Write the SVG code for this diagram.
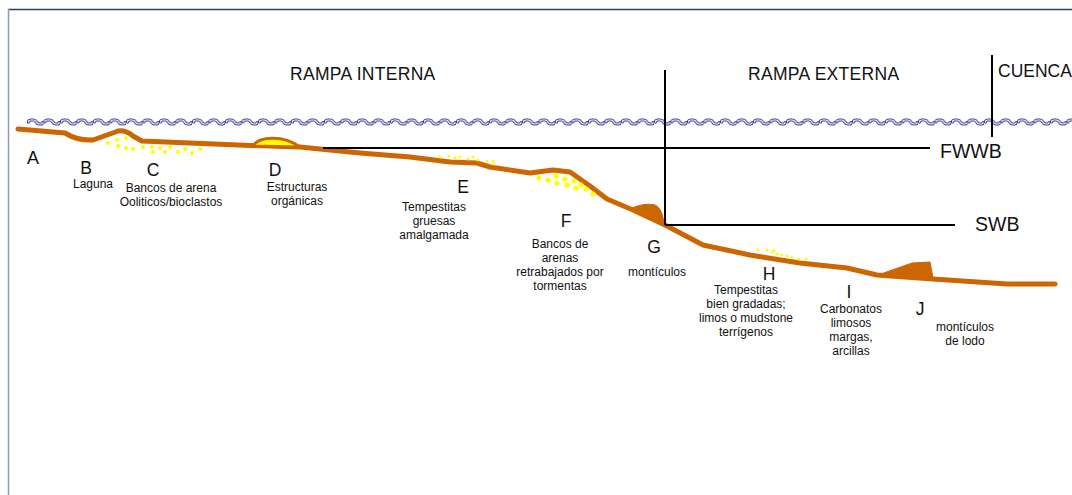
<svg xmlns="http://www.w3.org/2000/svg" width="1072" height="495" viewBox="0 0 1072 495">
  <style>
    .t { font-family: "Liberation Sans", Arial, sans-serif; fill: #111; text-anchor: middle; }
    .zone { font-size: 17.5px; text-anchor: start; }
    .lvl { font-size: 19.5px; text-anchor: start; }
    .let { font-size: 17.5px; }
    .sm { font-size: 12px; }
    .bed { fill: none; stroke: #CC6600; stroke-width: 5; stroke-linejoin: round; stroke-linecap: round; }
    .mound { fill: #CC6600; stroke: #CC6600; stroke-width: 1; stroke-linejoin: round; }
    .ln { stroke: #000; stroke-width: 2; fill: none; }
    .dot { fill: #FFFF00; }
  </style>
  <defs>
    <!-- wavy sea-surface ribbon -->
    <path id="wave-unit" d="M1.5,4 Q1.5,2 4,2 L6.5,2 Q8.3,2 9.3,4 Q10.3,6 12.2,6 L14.3,6 Q15.6,6 15.6,4.6"/>
    <pattern id="waves" patternUnits="userSpaceOnUse" x="27" y="118" width="16.5" height="11">
      <use href="#wave-unit" fill="none" stroke="#3a3aa0" stroke-width="3.2" stroke-linecap="round" stroke-linejoin="round"/>
      <use href="#wave-unit" fill="none" stroke="#fff" stroke-width="1.2" stroke-linecap="round" stroke-linejoin="round"/>
    </pattern>
  </defs>

  <rect width="1072" height="495" fill="#fff"/>
  <!-- frame -->
  <line x1="8" y1="9.5" x2="1072" y2="9.5" stroke="#2e3d6b" stroke-width="1.5"/>
  <line x1="8.5" y1="9" x2="8.5" y2="495" stroke="#8a9abb" stroke-width="1.5"/>

  <!-- sea surface -->
  <rect id="sea" x="27" y="118" width="1045" height="11" fill="url(#waves)"/>

  <!-- seabed profile -->
  <g id="seabed">
    <path class="bed" d="M18,129 L65,133 Q78,141 93,140 Q110,134 118,131 Q126,130 133,136 L142,141 L250,145.5 L300,147 L360,153 L410,157 L450,162 L477,163 L490,167 L530,173 L553,170 L570,172 L590,186 L607,199 L633,210 L665,225 L703,245 L750,255 L800,263 L847,268 L877,275 L933,279 L1007,284 L1055,284"/>
    <!-- organic build-up (D) -->
    <path d="M253,146 C258,137 282,134 300,147 Z" fill="#FFFF00" stroke="#CC6600" stroke-width="3" stroke-linejoin="round"/>
    <!-- mound (G) -->
    <path class="mound" d="M630,209 C638,205 648,203 655,205 C661,208 663,215 664,224 L646,217 Z"/>
    <!-- mud mound (J) -->
    <path class="mound" d="M878,275 L912,263 L930,262 L933,278 Z"/>
  </g>

  <!-- sand grains -->
  <g id="sands">
    <g id="sand-c">
      <circle class="dot" cx="108" cy="143" r="2"/><circle class="dot" cx="117" cy="140" r="2"/>
      <circle class="dot" cx="126" cy="138" r="2"/><circle class="dot" cx="118" cy="146" r="2"/>
      <circle class="dot" cx="126" cy="148" r="2"/><circle class="dot" cx="133" cy="149" r="2"/>
      <circle class="dot" cx="143" cy="147" r="2"/><circle class="dot" cx="153" cy="152" r="2"/>
      <circle class="dot" cx="152" cy="147" r="2"/><circle class="dot" cx="160" cy="148" r="2"/>
      <circle class="dot" cx="165" cy="152" r="2"/><circle class="dot" cx="170" cy="147" r="2"/>
      <circle class="dot" cx="178" cy="152" r="2"/><circle class="dot" cx="185" cy="149" r="2"/>
      <circle class="dot" cx="192" cy="153" r="2"/><circle class="dot" cx="200" cy="149" r="2"/>
    </g>
    <g id="sand-e">
      <circle class="dot" cx="440" cy="157" r="1.5"/><circle class="dot" cx="449" cy="156" r="1.5"/>
      <circle class="dot" cx="455" cy="158" r="1.5"/><circle class="dot" cx="460" cy="157" r="1.5"/>
      <circle class="dot" cx="468" cy="159" r="1.5"/><circle class="dot" cx="473" cy="157" r="1.5"/>
      <circle class="dot" cx="478" cy="160" r="1.5"/><circle class="dot" cx="487" cy="161" r="1.5"/>
      <circle class="dot" cx="493" cy="161" r="1.5"/><circle class="dot" cx="494" cy="164" r="1.5"/>
    </g>
    <g id="sand-f">
      <circle class="dot" cx="539" cy="178" r="2.6"/><circle class="dot" cx="548" cy="180" r="2.6"/>
      <circle class="dot" cx="556" cy="176" r="2.6"/><circle class="dot" cx="557" cy="183" r="2.6"/>
      <circle class="dot" cx="565" cy="179" r="2.6"/><circle class="dot" cx="567" cy="185" r="2.6"/>
      <circle class="dot" cx="574" cy="181" r="2.6"/><circle class="dot" cx="576" cy="188" r="2.6"/>
      <circle class="dot" cx="581" cy="185" r="2.6"/><circle class="dot" cx="586" cy="189" r="2.6"/>
      <circle class="dot" cx="593" cy="194" r="2.6"/>
    </g>
    <g id="sand-h">
      <circle class="dot" cx="758" cy="250" r="1.5"/><circle class="dot" cx="767" cy="250" r="1.5"/>
      <circle class="dot" cx="772" cy="252" r="1.5"/><circle class="dot" cx="774" cy="250.5" r="1.5"/>
      <circle class="dot" cx="777" cy="254" r="1.5"/><circle class="dot" cx="782" cy="255" r="1.5"/>
      <circle class="dot" cx="787" cy="256" r="1.5"/><circle class="dot" cx="792" cy="257" r="1.5"/>
      <circle class="dot" cx="799" cy="259" r="1.5"/><circle class="dot" cx="806" cy="259" r="1.5"/>
    </g>
  </g>

  <!-- zone boundaries and wave-base levels -->
  <g id="connectors">
    <line class="ln" x1="323" y1="148" x2="930" y2="148"/>
    <line class="ln" x1="665" y1="70" x2="665" y2="225"/>
    <line class="ln" x1="665" y1="225" x2="955" y2="225"/>
    <line class="ln" x1="992" y1="55" x2="992" y2="137"/>
  </g>

  <!-- zone titles -->
  <g id="zone-interna"><text class="t zone" x="290" y="80" style="letter-spacing:0.3px">RAMPA INTERNA</text></g>
  <g id="zone-externa"><text class="t zone" x="748" y="80" style="letter-spacing:0.3px">RAMPA EXTERNA</text></g>
  <g id="zone-cuenca"><text class="t zone" x="998" y="77">CUENCA</text></g>
  <g id="level-fwwb"><text class="t lvl" x="940" y="158">FWWB</text></g>
  <g id="level-swb"><text class="t lvl" x="975" y="231">SWB</text></g>

  <!-- facies labels -->
  <g id="node-a"><text class="t let" x="33" y="164" style="font-size:18px">A</text></g>
  <g id="node-b">
    <text class="t let" x="86" y="174">B</text>
    <text class="t sm" x="93" y="188">Laguna</text>
  </g>
  <g id="node-c">
    <text class="t let" x="153" y="176">C</text>
    <text class="t sm" x="171" y="192">Bancos de arena</text>
    <text class="t sm" x="171" y="206">Ooliticos/bioclastos</text>
  </g>
  <g id="node-d">
    <text class="t let" x="275" y="176">D</text>
    <text class="t sm" x="297" y="191">Estructuras</text>
    <text class="t sm" x="297" y="205">orgánicas</text>
  </g>
  <g id="node-e">
    <text class="t let" x="463" y="193">E</text>
    <text class="t sm" x="434" y="211">Tempestitas</text>
    <text class="t sm" x="434" y="225">gruesas</text>
    <text class="t sm" x="434" y="239">amalgamada</text>
  </g>
  <g id="node-f">
    <text class="t let" x="566" y="227">F</text>
    <text class="t sm" x="560" y="248">Bancos de</text>
    <text class="t sm" x="560" y="262">arenas</text>
    <text class="t sm" x="560" y="276">retrabajados por</text>
    <text class="t sm" x="560" y="290">tormentas</text>
  </g>
  <g id="node-g">
    <text class="t let" x="654" y="253">G</text>
    <text class="t sm" x="657" y="276">montículos</text>
  </g>
  <g id="node-h">
    <text class="t let" x="769" y="280">H</text>
    <text class="t sm" x="746" y="294">Tempestitas</text>
    <text class="t sm" x="746" y="308">bien gradadas;</text>
    <text class="t sm" x="746" y="322">limos o mudstone</text>
    <text class="t sm" x="746" y="336">terrígenos</text>
  </g>
  <g id="node-i">
    <text class="t let" x="849" y="298">I</text>
    <text class="t sm" x="851" y="313">Carbonatos</text>
    <text class="t sm" x="851" y="327">limosos</text>
    <text class="t sm" x="851" y="341">margas,</text>
    <text class="t sm" x="851" y="355">arcillas</text>
  </g>
  <g id="node-j">
    <text class="t let" x="920" y="315">J</text>
    <text class="t sm" x="965" y="331">montículos</text>
    <text class="t sm" x="965" y="345">de lodo</text>
  </g>
</svg>
